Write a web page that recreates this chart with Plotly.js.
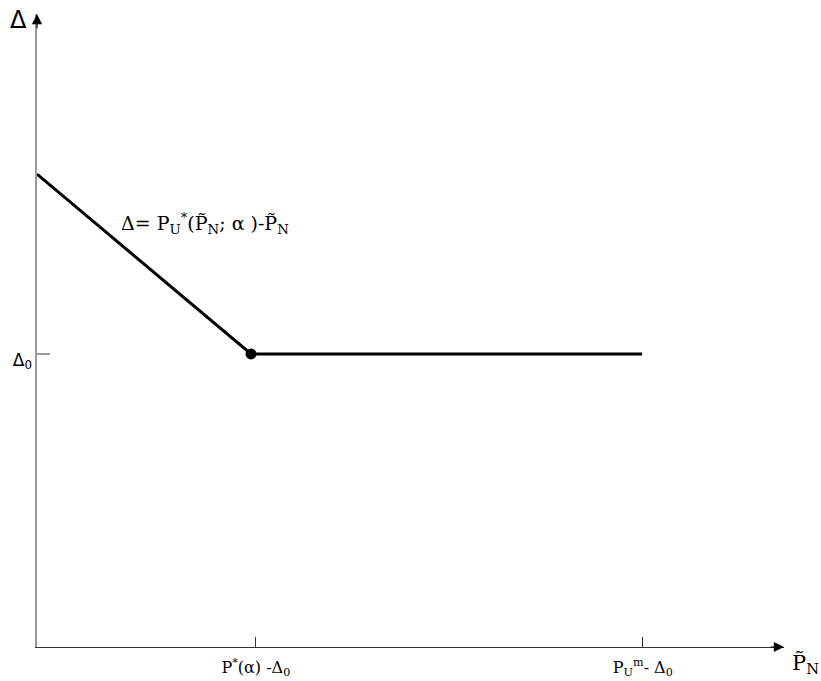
<!DOCTYPE html>
<html>
<head>
<meta charset="utf-8">
<script src="https://cdn.plot.ly/plotly-3.0.1.min.js"></script>
<style>html,body{margin:0;padding:0;background:#fff;}#chart{width:821px;height:681px;}</style>
</head>
<body>
<div id="chart"></div>
<script>
// Curve: Δ = P*_U(P̃_N; α) - P̃_N, then flat at Δ0
const curveX = [0, 2.865, 8.10];
const curveY = [7.47, 4.63, 4.63];
const kinkX = [2.865];
const kinkY = [4.63];
const xTickVals = [2.93, 8.11];
const xTickText = ['P<sup>*</sup>(α) -Δ<sub>0</sub>', 'P<sub>U</sub><sup>m</sup>- Δ<sub>0</sub>'];
const yTickVals = [4.63];
const yTickText = ['Δ<sub>0</sub>'];

const traces = [
  {x: curveX, y: curveY, mode: 'lines', line: {color: '#000', width: 3}, hoverinfo: 'skip', showlegend: false},
  {x: kinkX, y: kinkY, mode: 'markers', marker: {color: '#000', size: 11}, hoverinfo: 'skip', showlegend: false}
];

const layout = {
  width: 821, height: 681,
  margin: {l: 37, r: 37, t: 14, b: 34},
  paper_bgcolor: '#fff', plot_bgcolor: '#fff',
  showlegend: false,
  xaxis: {
    range: [0, 10], showgrid: false, zeroline: false,
    showline: true, linecolor: '#333', linewidth: 1.3,
    tickvals: xTickVals, ticktext: xTickText,
    ticks: 'inside', ticklen: 10, tickcolor: '#333', tickwidth: 1,
    tickfont: {family: 'DejaVu Serif', size: 16, color: '#000'},
    ticklabelstandoff: 5,
    fixedrange: true
  },
  yaxis: {
    range: [0, 10], showgrid: false, zeroline: false,
    showline: true, linecolor: '#999', linewidth: 1.6,
    tickvals: yTickVals, ticktext: yTickText,
    ticks: 'inside', ticklen: 13, tickcolor: '#999', tickwidth: 1.5,
    tickfont: {family: 'DejaVu Sans', size: 17, color: '#000'},
    ticklabelshift: 6,
    fixedrange: true
  },
  annotations: [
    // x axis arrowhead
    {x: 10, y: 0, xref: 'x', yref: 'y', ax: 9.8, ay: 0, axref: 'x', ayref: 'y',
     showarrow: true, arrowhead: 2, arrowsize: 1.7, arrowwidth: 1.2, arrowcolor: '#000', text: '', standoff: 0},
    // y axis arrowhead
    {x: 0, y: 10, xref: 'x', yref: 'y', ax: 0, ay: 9.75, axref: 'x', ayref: 'y',
     showarrow: true, arrowhead: 2, arrowsize: 1.7, arrowwidth: 1.2, arrowcolor: '#000', text: '', standoff: 0},
    // axis names
    {text: 'Δ', showarrow: false,
     font: {family: 'DejaVu Sans', size: 24, color: '#000'}},
    {text: 'P̃<sub>N</sub>', showarrow: false,
     font: {family: 'DejaVu Serif', size: 21, color: '#000'}},
    // curve label
    {text: 'Δ= P<sub>U</sub><sup>*</sup>(P̃<sub>N</sub>; α )-P̃<sub>N</sub>', showarrow: false,
     font: {family: 'DejaVu Serif', size: 19, color: '#000'}}
  ]
};
// position name/label annotations in pixel-equivalent paper coords
const pw = 821 - 37 - 37, ph = 681 - 14 - 34;
function px(xp){return (xp - 37) / pw;}
function py(yp){return (681 - 34 - yp) / ph;}
const place = [[2, 18, 20, 'center'], [3, 806, 664, 'center'], [4, 119, 223, 'left']];
place.forEach(([i, xp, yp, xa]) => {
  const a = layout.annotations[i];
  a.xref = 'paper'; a.yref = 'paper';
  a.x = px(xp); a.y = py(yp);
  a.xanchor = xa; a.yanchor = 'middle';
});

Plotly.newPlot('chart', traces, layout, {displayModeBar: false, staticPlot: true});
</script>
</body>
</html>
